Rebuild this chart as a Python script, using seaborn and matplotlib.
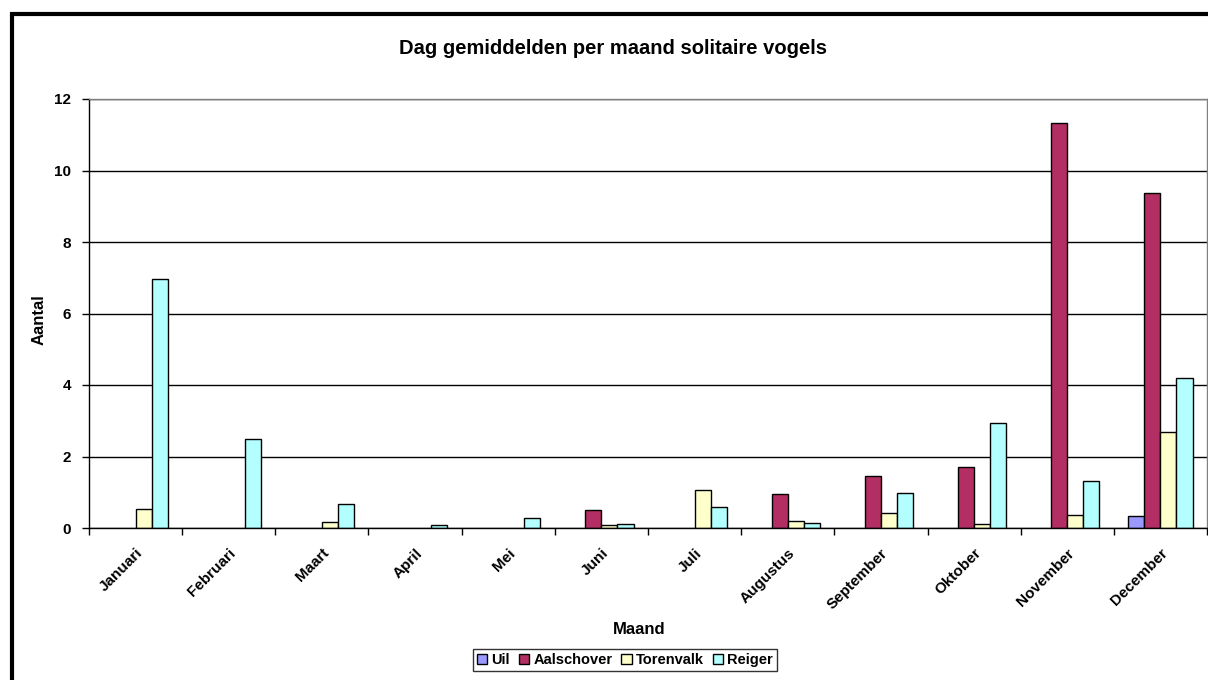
import pandas as pd
import seaborn as sns
import matplotlib.pyplot as plt
from matplotlib.patches import Rectangle, Patch

# maanden en soorten
maanden = ["Januari", "Februari", "Maart", "April", "Mei", "Juni", "Juli",
           "Augustus", "September", "Oktober", "November", "December"]
soorten = ["Uil", "Aalschover", "Torenvalk", "Reiger"]

uil = [0, 0, 0, 0, 0, 0, 0, 0, 0, 0, 0, 0.33]
aalschover = [0, 0, 0, 0, 0, 0.5, 0, 0.95, 1.46, 1.72, 11.33, 9.36]
torenvalk = [0.53, 0, 0.17, 0, 0, 0.07, 1.06, 0.2, 0.43, 0.1, 0.36, 2.68]
reiger = [6.97, 2.49, 0.67, 0.07, 0.28, 0.1, 0.6, 0.13, 0.99, 2.94, 1.32, 4.2]

kleuren = ["#9999FF", "#B22E63", "#FFFFCC", "#B3FFFF"]

df = pd.DataFrame({"Maand": maanden, "Uil": uil, "Aalschover": aalschover,
                   "Torenvalk": torenvalk, "Reiger": reiger})
df = df.melt(id_vars="Maand", var_name="Soort", value_name="Aantal")

sns.set_style("white")
plt.rcParams['font.family'] = ['Liberation Sans', 'DejaVu Sans']
plt.rcParams['font.weight'] = 'bold'
plt.rcParams['text.color'] = 'black'
plt.rcParams['axes.labelcolor'] = 'black'
plt.rcParams['xtick.color'] = 'black'
plt.rcParams['ytick.color'] = 'black'

fig = plt.figure(figsize=(12.08, 6.8), dpi=100)
ax = fig.add_axes([89 / 1208, 1 - 528 / 680, (1207 - 89) / 1208, (528 - 99) / 680])

sns.barplot(data=df, x="Maand", y="Aantal", hue="Soort", hue_order=soorten,
            order=maanden, palette=kleuren, width=0.69, edgecolor="black",
            linewidth=1, saturation=1, ax=ax, legend=False)

# lege balken niet tekenen
for p in ax.patches:
    if p.get_height() == 0:
        p.set_visible(False)

ax.set_ylim(0, 12)
ax.set_xlim(-0.5, 11.5)
ax.set_yticks(range(0, 13, 2))
ax.yaxis.grid(True, color="black", linewidth=1)
ax.set_axisbelow(True)

# tick-streepjes op de grenzen van de maanden
ax.set_xticks([i + 0.5 for i in range(-1, 12)], minor=False)
ax.set_xticklabels([])
ax.set_xticks(range(12), minor=True)
ax.set_xticklabels(maanden, minor=True, rotation=45, ha="right",
                   rotation_mode="anchor", fontsize=11, fontweight="bold")
ax.tick_params(axis="x", which="minor", length=0, pad=13)
ax.tick_params(axis="x", which="major", direction="out", length=5, width=1,
               color="black", bottom=True)
ax.tick_params(axis="y", direction="out", length=5, width=1, color="black",
               left=True, labelsize=11, pad=8)
for lab in ax.get_yticklabels():
    lab.set_fontweight("bold")

for s in ["left", "bottom"]:
    ax.spines[s].set_color("black")
    ax.spines[s].set_linewidth(1)
for s in ["top", "right"]:
    ax.spines[s].set_color("#808080")
    ax.spines[s].set_linewidth(1)

ax.set_xlabel("Maand", fontsize=12, fontweight="bold")
ax.set_ylabel("Aantal", fontsize=12, fontweight="bold")
ax.xaxis.set_label_coords(0.492, -0.218)
ax.yaxis.set_label_coords(-0.0376, 0.485)
fig.text(613 / 1208, 1 - 48 / 680, "Dag gemiddelden per maand solitaire vogels",
         ha="center", va="center", fontsize=14.5, fontweight="bold")

handles = [Patch(facecolor=c, edgecolor="black", linewidth=1) for c in kleuren]
leg = ax.legend(handles, soorten, loc="center",
                bbox_to_anchor=(625 / 1208, 1 - 660 / 680),
                bbox_transform=fig.transFigure, ncol=4, frameon=True,
                fancybox=False, edgecolor="black", handlelength=0.7,
                handleheight=0.7, handletextpad=0.3, columnspacing=0.6,
                borderpad=0.25, prop={"size": 10.5, "weight": "bold"})
leg.get_frame().set_linewidth(1)

# kader rond de grafiek
fig.patches.append(Rectangle((11.5 / 1208, -0.05), 1.1, 1 - 14 / 680 + 0.05,
                             transform=fig.transFigure, fill=False,
                             edgecolor="black", linewidth=3, zorder=10))

plt.savefig("out.png", dpi=100)
